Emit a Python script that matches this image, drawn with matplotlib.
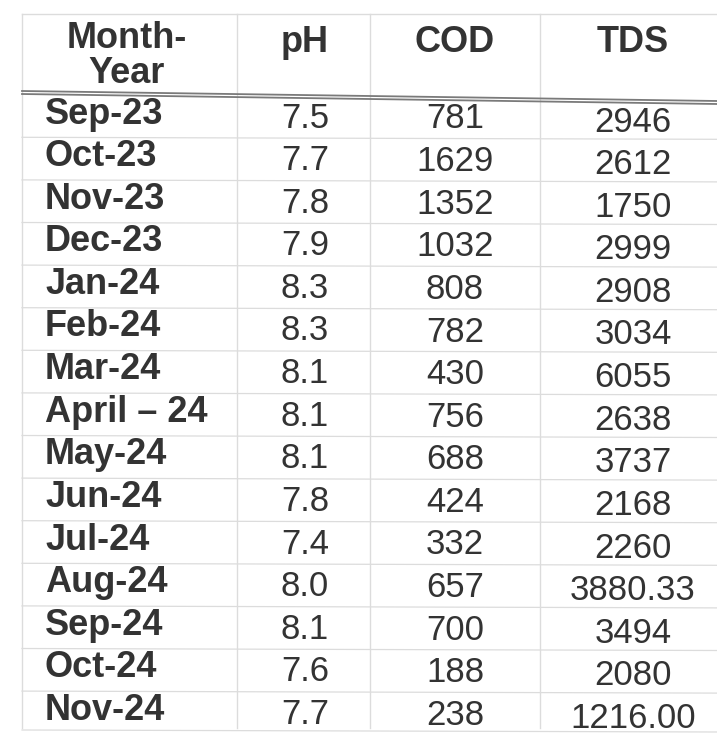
import matplotlib.pyplot as plt

# Table contents
months = ["Sep-23", "Oct-23", "Nov-23", "Dec-23", "Jan-24", "Feb-24", "Mar-24",
          "April \u2013 24", "May-24", "Jun-24", "Jul-24", "Aug-24", "Sep-24",
          "Oct-24", "Nov-24"]
ph = ["7.5", "7.7", "7.8", "7.9", "8.3", "8.3", "8.1", "8.1", "8.1", "7.8",
      "7.4", "8.0", "8.1", "7.6", "7.7"]
cod = ["781", "1629", "1352", "1032", "808", "782", "430", "756", "688", "424",
       "332", "657", "700", "188", "238"]
tds = ["2946", "2612", "1750", "2999", "2908", "3034", "6055", "2638", "3737",
       "2168", "2260", "3880.33", "3494", "2080", "1216.00"]
headers = ["Month-\nYear", "pH", "COD", "TDS"]


def main():
    plt.rcParams['font.family'] = ['Liberation Sans', 'DejaVu Sans']
    fig = plt.figure(figsize=(7.17, 7.41), dpi=100)
    ax = fig.add_axes([0, 0, 1, 1])
    ax.set_xlim(0, 717)
    ax.set_ylim(741, 0)
    ax.axis("off")

    text_color = "#333333"
    grid_color = "#dcdcdc"

    # column layout
    col_lines = [22, 237, 370, 540]
    col_centers = [127, 305, 455, 633]
    label_left = 45

    top = 14
    header_bottom = 95
    row_h = 42.6
    first_center = 116

    # borders and separators
    ax.plot([col_lines[0], 717], [top, top], color=grid_color, lw=1)
    for x in col_lines:
        ax.plot([x, x], [top, 728], color=grid_color, lw=1)
    ax.plot([col_lines[0], 717], [header_bottom - 4, header_bottom + 6], color="#7a7a7a", lw=1.3)
    ax.plot([col_lines[0], 717], [header_bottom - 1, header_bottom + 9], color="#7a7a7a", lw=1.3)
    for i in range(1, len(months)):
        y = first_center + (i - 0.5) * row_h
        ax.plot([col_lines[0], 717], [y, y + 2], color=grid_color, lw=0.9)
    ax.plot([col_lines[0], 717], [730, 732], color=grid_color, lw=0.9)

    # header
    for j, h in enumerate(headers):
        ax.text(col_centers[j], 56 if j == 0 else 42, h, ha="center", va="center",
                fontsize=26, fontweight="bold", color=text_color, linespacing=1.0)

    # rows
    for i, m in enumerate(months):
        y = first_center + i * row_h
        ax.text(label_left, y - 2, m, ha="left", va="center", fontsize=26,
                fontweight="bold", color=text_color)
        ax.text(col_centers[1], y + 2, ph[i], ha="center", va="center",
                fontsize=25, color=text_color)
        ax.text(col_centers[2], y + 3, cod[i], ha="center", va="center",
                fontsize=25, color=text_color)
        ax.text(col_centers[3], y + 6, tds[i], ha="center", va="center",
                fontsize=25, color=text_color)

    fig.savefig("out.png", dpi=100, facecolor="white")


if __name__ == "__main__":
    main()
